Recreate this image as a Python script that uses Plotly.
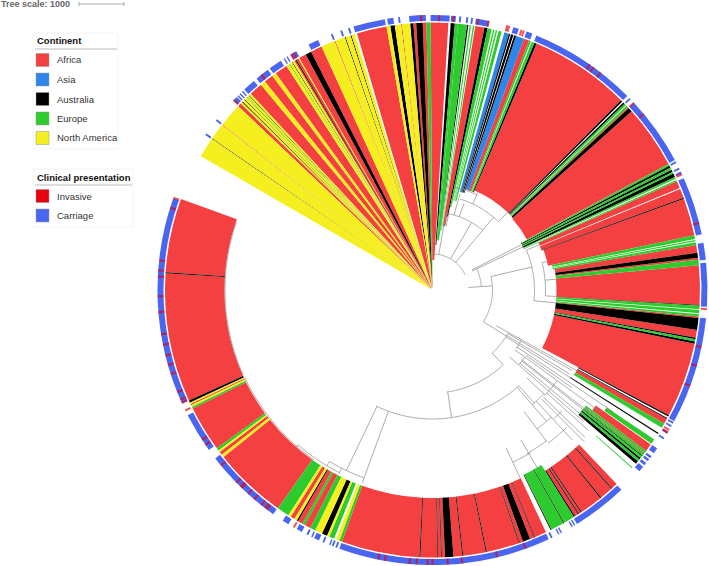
import bisect
import numpy as np
import plotly.graph_objects as go

W, H = 709, 566
CX, CY, RMAX = 432.5, 290, 276
START = 300  # tree starts here and runs clockwise to 290

continent_names = ["Africa", "Asia", "Australia", "Europe", "North America"]
continent_colors = ["#f44040", "#2f86ea", "#000000", "#2ecb2e", "#f5ef20"]
presentation_names = ["Invasive", "Carriage"]
presentation_colors = ["#e8000d", "#4a66f0"]

# tips: angle where each run ends, and its continent
seg_end = [
    304.4, 304.55, 308.1, 308.25, 313.4, 314.2, 314.6, 314.8, 315.3, 315.45,
    316.0, 316.2, 316.6, 316.75, 317.2, 320.1, 321.2, 323.2, 324.1, 326.9,
    327.6, 327.8, 328.3, 328.45, 328.9, 329.2, 329.4, 329.9, 330.1, 331.7,
    333.0, 335.5, 338.5, 338.7, 340.85, 341.05, 342.15, 342.35, 343.1, 343.6,
    350.1, 350.9, 351.9, 353.25, 353.45, 355.2, 355.9, 356.5, 357.9, 358.7,
    359.6, 3.4, 3.9, 4.8, 5.5, 7.4, 7.7, 8.0, 8.3, 8.7,
    9.0, 9.2, 11.2, 11.9, 12.8, 13.1, 13.4, 13.7, 14.0, 14.3,
    15.0, 15.6, 16.6, 16.9, 17.1, 17.6, 17.8, 18.2, 20.0, 21.2,
    21.6, 21.8, 22.4, 22.9, 44.8, 45.2, 45.5, 45.9, 46.3, 46.5,
    46.9, 47.2, 48.1, 61.9, 62.3, 62.8, 63.3, 63.8, 64.2, 65.0,
    65.4, 65.7, 66.0, 67.6, 67.8, 69.85, 70.05, 78.2, 79.0, 79.2,
    79.5, 79.7, 80.3, 82.0, 83.1, 83.5, 84.7, 93.2, 93.4, 94.1,
    94.3, 95.0, 95.2, 95.7, 96.0, 98.6, 100.3, 100.6, 101.1, 101.6,
    117.9, 118.2, 118.6, 118.8, 120.0, 121.0, 122.3, 122.6, 124.0, 125.1,
    125.3, 127.0, 127.5, 127.7, 128.2, 128.4, 128.9, 129.3, 129.8, 130.5,
    131.6, 131.8, 136.5, 137.8, 138.0, 140.9, 141.1, 146.1, 146.3, 146.8,
    147.0, 147.8, 148.1, 150.5, 150.7, 153.6, 153.8, 154.9, 157.5, 157.65,
    158.6, 160.2, 161.0, 161.15, 168.3, 168.5, 173.4, 173.6, 175.5, 177.3,
    178.0, 178.15, 178.8, 178.95, 182.6, 182.8, 199.8, 200.4, 201.1, 201.6,
    202.7, 203.2, 204.4, 206.0, 207.2, 208.5, 209.1, 210.2, 210.5, 211.1,
    212.0, 212.6, 215.3, 231.4, 232.0, 232.7, 233.1, 233.7, 243.7, 244.1,
    244.5, 244.8, 245.1, 245.6, 273.6, 273.8, 289.9,
]
seg_code = (
    "N U N F N F N U N U "
    "N E N U N F N F N F "
    "N E N U N F U F N F "
    "U F N F N U N U N - "
    "F N U N F N U F U F "
    "E F - U E E U - E - "
    "E - F U E - E - E - "
    "E - S U - U - U S F "
    "E - E U F U - U E - "
    "E F U F E U E U E U "
    "E - E F - F U F E - "
    "E - E F U F E F U E "
    "- E - E F U F U E U "
    "F U - U F E - U - E "
    "- F E F E U E U E U "
    "- E - F U F U F U F "
    "U F U E U E U - F U "
    "F U F U F U F U F U "
    "F U F U F U F E N - "
    "E N U N E F E F U N "
    "F N E F N F N E F E "
    "N F N U F U F"
).split()
code_to_continent = {"F": "Africa", "S": "Asia", "U": "Australia", "E": "Europe", "N": "North America"}

# how far out the coloured part starts, by angle band
depth_end = [359.6, 3.4, 3.9, 4.8, 7.4, 9.2, 11.2, 11.9, 12.8, 15.6, 18.2, 22.9, 48.1, 61.9, 66.0, 70.1,
             78.2, 80.3, 117.9, 121.0, 122.7, 125.3, 127.0, 130.5, 131.9, 148.1, 155.0, 290.0]
depth_r = [2, 30, 40, 45, 50, 60, 65, 75, 85, 92, 102, 106, 108, 107, 100, 116,
           118, 122, 124, 165, 163, 210, 200, 192, 219, 213, 206, 208]

# outer ring
carriage_start = [304.3, 308.0, 313.6, 314.8, 315.4, 316.1, 316.8, 320.2, 323.7, 327.2, 327.9, 329.0, 333.2,
                  338.3, 340.4, 342.1, 343.3, 350.5, 352.8, 355.1, 359.6, 3.9, 5.6, 7.1, 8.1, 9.1, 17.1, 20.0,
                  22.2, 45.7, 47.1, 62.1, 63.6, 64.5, 66.0, 80.1, 84.3, 95.9, 118.7, 119.5, 121.0, 122.5, 125.2,
                  127.2, 128.0, 129.0, 130.0, 136.6, 148.7, 149.3, 151.9, 152.5, 154.1, 155.0, 200.3, 201.1, 201.8,
                  203.2, 204.4, 205.9, 206.9, 208.4, 211.6, 215.4, 234.4, 245.6]
carriage_end = [304.7, 308.4, 314.6, 315.1, 315.7, 316.4, 319.5, 323.2, 326.5, 327.5, 328.2, 330.3, 335.4,
                338.7, 340.8, 342.5, 350.0, 351.8, 353.2, 358.6, 3.6, 4.9, 6.0, 7.5, 8.5, 11.9, 18.3, 21.3,
                45.1, 46.1, 61.8, 62.5, 64.0, 65.0, 78.3, 83.7, 93.5, 118.5, 119.1, 119.9, 121.5, 122.9, 126.4,
                127.7, 128.5, 129.6, 131.2, 148.3, 149.0, 149.6, 152.2, 152.8, 154.5, 199.8, 200.7, 201.5, 202.1,
                203.6, 205.5, 206.2, 207.3, 209.6, 213.0, 232.2, 242.9, 289.5]
invasive_at = [313.7, 321.5, 329.0, 329.6, 357.6, 1.4, 4.4, 9.6, 11.8, 15.8, 16.2, 18.9, 19.4, 34.9, 35.9, 37.7,
               47.1, 50.2, 65.1, 75.9, 94.0, 102.0, 106.0, 110.4, 120.6, 121.2, 160.2, 166.4, 173.8, 176.8, 180.0,
               181.0, 183.3, 184.8, 190.0, 191.4, 210.3, 217.0, 217.5, 218.5, 220.4, 222.1, 223.9, 224.3, 225.5,
               230.3, 235.7, 237.0, 244.0, 245.8, 246.5, 248.2, 252.2, 254.2, 256.2, 258.5, 260.7, 265.4, 268.7,
               272.8, 274.1, 276.2, 287.4, 289.6]

# tree branches: arcs at a radius and spokes along an angle
arc_r = [129, 103, 87, 60, 49, 36, 78, 95, 105, 102, 113, 200, 205, 207, 207.5, 190, 189, 192, 174, 177, 152, 154, 114, 102]
arc_from = [138, 137, 120, 77, 65, 3, 10, 17, 12, 67, 76, 200, 207, 215, 246, 149, 143, 136, 137, 133, 133, 126, 126, 120]
arc_to = [205.5, 172, 136.5, 122, 86, 65, 40, 44, 25, 96, 93, 211, 221, 245, 289, 155, 150, 143, 143, 137, 139, 133, 131, 125]

spoke_theta = [205.5, 171.5, 138, 136.6, 120, 121.5, 122, 86, 63, 64.5, 77, 67, 96, 76, 85, 93, 30, 10, 16, 40, 44, 25, 20, 12,
               200, 211, 207, 221, 155, 149.5, 143, 137, 133, 139, 126, 131, 119.2, 124, 128, 130, 132, 125, 134, 135, 122.5, 128.5]
spoke_from = [129, 103, 129, 87, 87, 87, 60, 36, 44, 44, 60, 102, 102, 113, 113, 113, 36, 36, 78, 36, 95, 95, 78, 78,
              129, 200, 200, 205, 174, 174, 152, 152, 129, 129, 102, 102, 73, 102, 114, 114, 154, 114, 154, 154, 87, 114]
spoke_to = [200, 129, 152, 103, 161, 161, 87, 60, 99, 101, 102, 116, 124, 120, 124, 124, 78, 78, 100, 95, 108, 108, 92, 65,
            205, 205, 206, 208, 208, 208, 190, 205, 154, 174, 210, 200, 165, 219, 200, 195, 210, 170, 212, 215, 165, 192]


def px_x(x):
    return x / W


def px_y(y):
    return 1 - y / H


def unwrap(a):
    return (a - START) % 360


fig = go.Figure()

# wedges, one trace per continent
seg_start = [START] + seg_end[:-1]
unwrapped_depth = [unwrap(d) for d in depth_end]
for name, color in zip(continent_names, continent_colors):
    theta, width, base, length = [], [], [], []
    for s, e, c in zip(seg_start, seg_end, seg_code):
        if code_to_continent.get(c) != name:
            continue
        w = (e - s) % 360
        inner = depth_r[min(bisect.bisect_left(unwrapped_depth, unwrap(e)), len(depth_r) - 1)]
        theta.append(s + w / 2)
        width.append(w)
        base.append(inner)
        length.append(267.5 - inner)
    fig.add_trace(go.Barpolar(r=length, base=base, theta=theta, width=width, name=name,
                              marker=dict(color=color, line=dict(width=0))))

# ring
c_w = [(e - s) % 360 for s, e in zip(carriage_start, carriage_end)]
fig.add_trace(go.Barpolar(r=[6] * len(c_w), base=[269] * len(c_w),
                          theta=[s + w / 2 for s, w in zip(carriage_start, c_w)], width=c_w,
                          name="Carriage", marker=dict(color=presentation_colors[1], line=dict(width=0))))
fig.add_trace(go.Barpolar(r=[6] * len(invasive_at), base=[269] * len(invasive_at),
                          theta=invasive_at, width=[0.45] * len(invasive_at),
                          name="Invasive", marker=dict(color=presentation_colors[0], opacity=0.65, line=dict(width=0))))

# tree
tree_r, tree_t = [], []
for r, a, b in zip(arc_r, arc_from, arc_to):
    steps = np.arange(a, b + 1, 1.0)
    tree_r += [r] * len(steps) + [None]
    tree_t += list(steps) + [None]
for t, a, b in zip(spoke_theta, spoke_from, spoke_to):
    tree_r += [a, b, None]
    tree_t += [t, t, None]
fig.add_trace(go.Scatterpolar(r=tree_r, theta=tree_t, mode="lines", name="Tree",
                              line=dict(color="#8a8a8a", width=0.7), connectgaps=False))

shapes = []
annotations = []


def text(x, y, s, size=9.5, bold=False, color="#333333"):
    annotations.append(dict(x=px_x(x), y=px_y(y), xref="paper", yref="paper", text="<b>%s</b>" % s if bold else s,
                            showarrow=False, xanchor="left", yanchor="middle", xshift=0, align="left",
                            font=dict(family="Liberation Sans", size=size, color=color)))


def rect(x0, y0, x1, y1, fill, line="rgba(0,0,0,0)", lw=0):
    shapes.append(dict(type="rect", xref="paper", yref="paper", x0=px_x(x0), x1=px_x(x1), y0=px_y(y0), y1=px_y(y1),
                       fillcolor=fill, line=dict(color=line, width=lw)))


def hline(x0, x1, y, color, lw=1):
    shapes.append(dict(type="line", xref="paper", yref="paper", x0=px_x(x0), x1=px_x(x1), y0=px_y(y), y1=px_y(y),
                       line=dict(color=color, width=lw)))


# legends
rect(33, 33, 118, 149, "white", "#f4f4f4", 1)
text(35, 41, "Continent", 9.5, True, "#111111")
hline(35, 117, 49, "#bbbbbb", 1)
for i, (name, color) in enumerate(zip(continent_names, continent_colors)):
    yc = 60 + i * 19.5
    rect(36, yc - 6.5, 49, yc + 6.5, color, "#999999", 0.5)
    text(54.5, yc, name)

rect(33, 169, 133, 227, "white", "#f4f4f4", 1)
text(35, 177, "Clinical presentation", 9.5, True, "#111111")
hline(35, 132, 185, "#bbbbbb", 1)
for i, (name, color) in enumerate(zip(presentation_names, presentation_colors)):
    yc = 196 + i * 19.5
    rect(36, yc - 6.5, 49, yc + 6.5, color, "#999999", 0.5)
    text(54.5, yc, name)

# scale bar
text(-1, 4, "Tree scale: 1000", 9, True, "#666666")
hline(79, 124, 4, "#999999", 0.8)
for xb in [79, 124]:
    shapes.append(dict(type="line", xref="paper", yref="paper", x0=px_x(xb), x1=px_x(xb), y0=px_y(2), y1=px_y(6),
                       line=dict(color="#999999", width=0.8)))

fig.update_layout(
    width=W, height=H, margin=dict(l=0, r=0, t=0, b=0), showlegend=False, paper_bgcolor="white",
    shapes=shapes, annotations=annotations,
    polar=dict(
        domain=dict(x=[(CX - RMAX) / W, (CX + RMAX) / W], y=[(H - CY - RMAX) / H, (H - CY + RMAX) / H]),
        bgcolor="white", barmode="overlay", bargap=0,
        radialaxis=dict(visible=False, range=[0, RMAX]),
        angularaxis=dict(visible=False, rotation=90, direction="clockwise"),
    ),
)

# the page's default body margin would push the chart off the window
fig.write_html("out.html", config={"displayModeBar": False}, post_script="document.body.style.margin='0';")
